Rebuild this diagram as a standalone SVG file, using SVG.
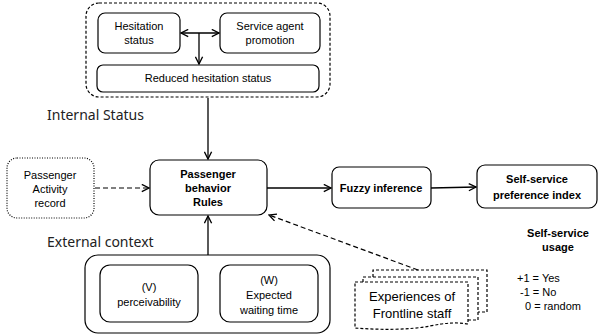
<svg xmlns="http://www.w3.org/2000/svg" width="603" height="334" viewBox="0 0 603 334">
<style>
.box{fill:#fff;stroke:#000;stroke-width:1.2}
.dash{fill:none;stroke:#000;stroke-width:1.2;stroke-dasharray:3 2}
.dot{fill:#fff;stroke:#000;stroke-width:1.2;stroke-dasharray:1 1.5}
.t{font-family:"Liberation Sans",Arial,sans-serif;font-size:11px;text-anchor:middle;fill:#000}
.b{font-weight:bold}
.lbl{font-family:"Noto Sans","Liberation Sans",sans-serif;font-size:14px;fill:#222}
.ln{fill:none;stroke:#000;stroke-width:1.3}
.dl{fill:none;stroke:#000;stroke-width:1.2;stroke-dasharray:5 3}
</style>
<defs>
<marker id="ah" viewBox="0 0 10 10" refX="9" refY="5" markerWidth="9" markerHeight="9" markerUnits="userSpaceOnUse" orient="auto-start-reverse">
<path d="M1,1 L9,5 L1,9" fill="none" stroke="#000" stroke-width="1.5"/>
</marker>
</defs>
<g id="internal-status">
<rect x="86" y="3" width="244" height="94" rx="13" class="dash"/>
<text x="47" y="120" class="lbl">Internal Status</text>
</g>
<g id="hesitation-status">
<rect x="98" y="13" width="82" height="40" rx="7" class="box"/>
<text x="139" y="30" class="t">Hesitation</text>
<text x="139" y="44" class="t">status</text>
</g>
<g id="service-agent-promotion">
<rect x="220" y="13" width="100" height="40" rx="7" class="box"/>
<text x="270" y="30" class="t">Service agent</text>
<text x="270" y="44" class="t">promotion</text>
</g>
<g id="reduced-hesitation-status">
<rect x="97" y="65" width="222" height="27" rx="6" class="box"/>
<text x="208" y="82" class="t">Reduced hesitation status</text>
</g>
<g id="passenger-activity-record">
<rect x="7" y="158" width="87" height="60" rx="10" class="dot"/>
<text x="50" y="179" class="t">Passenger</text>
<text x="50" y="193" class="t">Activity</text>
<text x="50" y="207" class="t">record</text>
</g>
<g id="passenger-behavior-rules">
<rect x="150" y="160" width="117" height="55" rx="9" class="box"/>
<text x="208" y="178" class="t b">Passenger</text>
<text x="208" y="192" class="t b">behavior</text>
<text x="208" y="206" class="t b">Rules</text>
</g>
<g id="fuzzy-inference">
<rect x="332" y="167" width="99" height="41" rx="7" class="box"/>
<text x="381" y="192" class="t b">Fuzzy inference</text>
</g>
<g id="self-service-preference-index">
<rect x="477" y="165" width="120" height="43" rx="8" class="box"/>
<text x="537" y="183" class="t b">Self-service</text>
<text x="537" y="199" class="t b">preference index</text>
</g>
<g id="self-service-usage">
<text x="558" y="237" class="t b">Self-service</text>
<text x="558" y="251" class="t b">usage</text>
<text x="517" y="282" class="t" style="text-anchor:start">+1 = Yes</text>
<text x="520" y="296" class="t" style="text-anchor:start">-1 = No</text>
<text x="525" y="310" class="t" style="text-anchor:start">0 = random</text>
</g>
<g id="external-context">
<rect x="85" y="255" width="245" height="78" rx="13" class="box"/>
<text x="47" y="247" class="lbl">External context</text>
</g>
<g id="perceivability">
<rect x="100" y="265" width="98" height="57" rx="10" class="box"/>
<text x="149" y="291" class="t">(V)</text>
<text x="149" y="306" class="t">perceivability</text>
</g>
<g id="expected-waiting-time">
<rect x="220" y="265" width="98" height="57" rx="10" class="box"/>
<text x="269" y="284" class="t">(W)</text>
<text x="269" y="299" class="t">Expected</text>
<text x="269" y="314" class="t">waiting time</text>
</g>
<g id="experiences-of-frontline-staff">
<path d="M373,277 V270 H487 V312 H478" class="dash"/>
<path d="M363,282 V277 H478 V320 H468" class="dash"/>
<path d="M355,282 H468 V324 C455,322 445,323 430,326 C410,330 380,330 355,328 Z" class="dash" style="fill:#fff"/>
<text x="412" y="301" class="t" style="font-size:13px">Experiences of</text>
<text x="412" y="318" class="t" style="font-size:13px">Frontline staff</text>
</g>
<g id="connectors">
<line x1="181" y1="33" x2="219" y2="33" class="ln" marker-start="url(#ah)" marker-end="url(#ah)"/>
<line x1="199" y1="33" x2="199" y2="64" class="ln" marker-end="url(#ah)"/>
<line x1="208" y1="98" x2="208" y2="159" class="ln" marker-end="url(#ah)"/>
<line x1="95" y1="188" x2="149" y2="188" class="dl" marker-end="url(#ah)"/>
<line x1="267" y1="188" x2="331" y2="188" class="ln" marker-end="url(#ah)"/>
<line x1="431" y1="188" x2="476" y2="187" class="ln" marker-end="url(#ah)"/>
<line x1="208" y1="255" x2="208" y2="216" class="ln" marker-end="url(#ah)"/>
<line x1="418" y1="270" x2="269" y2="215" class="dl" marker-end="url(#ah)"/>
</g>
</svg>
